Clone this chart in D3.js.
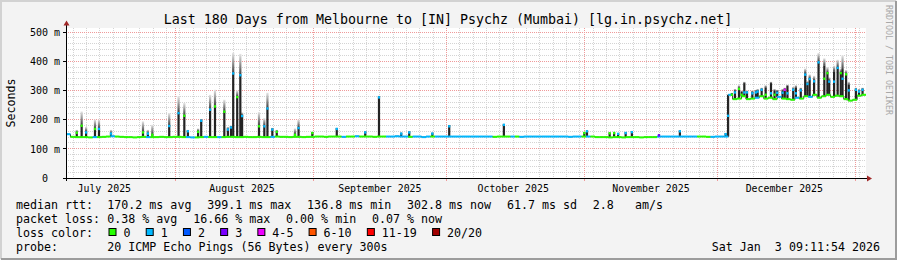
<!DOCTYPE html>
<html>
<head>
<meta charset="utf-8">
<script src="https://cdn.jsdelivr.net/npm/d3@7"></script>
<style>
body { margin: 0; background: #f3f3f3; }
text { font-family: "DejaVu Sans Mono", monospace; white-space: pre; }
</style>
</head>
<body>
<div id="graph"></div>
<script>
var width = 897, height = 260;
var plot = {left: 66, right: 866, top: 28, bottom: 178};

var endTime = new Date(Date.UTC(2026, 0, 3, 9, 11, 54));
var startTime = new Date(endTime - 180 * 864e5);

var yTicks = [0, 100, 200, 300, 400, 500];
var lossLabels = ["0", "1", "2", "3", "4-5", "6-10", "11-19", "20/20"];
var lossColors = ["#26ff00", "#00b8ff", "#0059ff", "#7a00ff", "#ee00ff", "#ff5500", "#ff0000", "#a10000"];

// daily median (ms), one value per day from the start of the window
var baseMedian = [
  150,141,140,140,140,139,140,140,141,142,143,142,141,140,140,139,140,141,140,140,140,141,140,140,141,
  141,140,140,139,139,140,141,140,140,140,140,141,141,140,140,141,140,140,141,140,140,141,142,141,141,140,141,141,140,141,141,
  142,142,141,142,142,142,141,142,142,143,142,142,142,141,142,142,142,142,143,142,142,141,142,142,140,142,142,142,142,142,
  142,142,142,142,142,142,142,142,142,142,141,142,142,142,142,142,141,142,142,142,142,142,142,142,142,142,142,141,142,142,142,
  142,142,140,140,140,139,140,140,139,140,140,140,139,140,140,140,142,142,142,142,142,142,142,142,142,142,142,141,141,142,
  142,142,285,270,272,280,270,272,275,280,272,275,270,278,272,270,268,275,272,280,278,285,275,280,285,278,282,280,270,265,268,282,285
];
// lost pings out of 20 for each day (index into lossColors)
var baseLoss = [
  1,0,0,0,0,0,1,0,0,0,1,0,0,0,0,0,0,0,1,0,0,0,0,0,0,
  0,0,1,1,0,0,1,0,0,1,0,0,0,0,0,0,0,0,0,0,0,1,0,0,0,0,0,0,0,0,0,
  0,0,0,0,0,0,1,0,0,1,0,0,0,0,0,0,1,1,1,1,1,0,1,1,1,1,0,1,1,1,
  1,1,1,1,1,1,1,1,1,1,0,0,0,0,1,0,1,1,1,1,1,1,1,1,1,1,1,1,1,1,0,
  1,0,0,0,0,0,0,0,0,0,0,0,0,0,0,0,1,1,1,1,1,1,1,1,1,0,0,0,1,1,
  1,1,1,0,0,0,0,0,1,0,0,0,0,1,0,0,0,1,0,0,1,0,0,0,0,0,0,0,0,0,0,0,0
];

// short bursts: day offset, median, top of dense smoke, top of faint smoke, loss
var spikeDay = [2.4,3.5,4.5,6.5,7.4,10.1,17.3,18.4,19.4,23.2,25.3,26.6,27.4,29.7,30.4,32.4,33.5,35.6,36.4,37.1,
  37.6,38.5,39.2,39.6,43.4,44.6,45.3,46.4,47.4,51.5,52.3,55.4,60.9,67.3,70.4,75.4,77.2,82.4,86.2,98.5,
  116.6,117.2,122.3,123.3,124.2,125.9,127.3,133.4,138.1,148.4,148.95,
  149.8,150.5,151.4,152.0,152.6,153.2,154.4,155.2,155.6,156.5,157.4,158.6,159.4,160.0,161.2,161.7,162.3,163.6,
  164.2,165.3,166.3,166.8,167.3,168.3,169.3,170.6,171.3,171.7,172.8,173.6,174.3,174.7,175.5,176.1,177.7,178.4,179.2];
var spikeMedian = [155,179,156,168,168,152,156,152,148,178,222,213,160,158,196,234,245,227,166,173,
  358,277,352,212,177,177,238,166,158,148,171,154,168,156,276,152,156,152,177,182,
  154,160,153,154,151,154,157,146,160,150,213,
  285,293,305,285,293,293,290,293,296,302,285,290,285,292,292,302,290,302,
  290,300,354,322,339,331,396,340,359,330,330,377,359,340,355,300,302,296,302];
var spikeTop = [158,182,159,171,171,155,159,155,151,181,225,216,163,161,199,237,248,230,169,176,
  361,280,355,215,180,180,241,169,161,151,174,157,171,159,279,155,159,155,180,185,
  157,163,156,157,154,157,160,149,163,153,285,
  290,300,310,295,325,296,295,298,300,305,310,325,300,298,300,305,315,305,
  310,305,359,325,342,335,399,385,362,335,365,380,362,373,358,320,305,300,305];
var spikeMax = [165,228,175,200,200,165,194,165,182,222,280,257,165,170,202,285,302,268,175,180,
  429,300,425,225,226,205,292,172,165,170,200,158,172,160,282,155,160,155,182,186,
  157,163,156,157,154,157,160,150,163,155,285,
  292,305,318,300,330,300,300,302,305,310,318,330,305,302,305,310,320,312,
  318,310,375,332,355,350,428,410,380,345,385,405,375,420,370,330,310,305,310];
var spikeLoss = [0,0,1,0,1,1,0,1,0,1,1,0,1,0,1,1,0,0,1,1,
  1,0,1,1,0,1,1,1,0,0,1,0,1,1,1,1,1,1,1,1,
  0,1,0,0,1,1,1,3,1,1,1,
  0,1,0,0,1,1,1,1,1,1,0,1,0,1,1,4,1,1,
  1,1,1,1,1,1,1,0,0,1,1,1,0,1,0,1,1,1,1];

var rttStats = ["170.2 ms avg", "399.1 ms max", "136.8 ms min", "302.8 ms now", "61.7 ms sd", "2.8   am/s"];
var lossStats = ["0.38 % avg", "16.66 % max", "0.00 % min", "0.07 % now"];
var probeText = "20 ICMP Echo Pings (56 Bytes) every 300s";
var stampText = "Sat Jan  3 09:11:54 2026";
var titleText = "Last 180 Days from Melbourne to [IN] Psychz (Mumbai) [lg.in.psychz.net]";

function dayTime(d) { return new Date(+startTime + d * 864e5); }
function crisp(v) { return Math.floor(v) + 0.5; }

var xScale = d3.scaleUtc().domain([startTime, endTime]).range([plot.left, plot.right]);
var yScale = d3.scaleLinear().domain([0, 513.7]).range([plot.bottom, plot.top]);

var svg = d3.select("#graph").append("svg").attr("width", width).attr("height", height);

// canvas and 3d border
svg.append("rect").attr("width", width).attr("height", height).attr("fill", "#f3f3f3");
svg.append("path").attr("d", "M1,259V1H896").attr("fill", "none").attr("stroke", "#d2d2d2").attr("stroke-width", 2);
svg.append("path").attr("d", "M1,259H896V1").attr("fill", "none").attr("stroke", "#9c9c9c").attr("stroke-width", 2);

svg.append("rect")
  .attr("x", plot.left).attr("y", plot.top)
  .attr("width", plot.right - plot.left).attr("height", plot.bottom - plot.top)
  .attr("fill", "#ffffff");

var defs = svg.append("defs");
var grad = defs.append("linearGradient").attr("id", "smoke")
  .attr("x1", 0).attr("y1", 1).attr("x2", 0).attr("y2", 0);
grad.append("stop").attr("offset", 0).attr("stop-color", "#444444");
grad.append("stop").attr("offset", 1).attr("stop-color", "#e6e6e6");

// grid
var gridLayer = svg.append("g").attr("class", "grid");
var sep1 = Date.UTC(2025, 8, 1);
var minorDays = d3.utcDay.range(startTime, endTime).filter(function(d) {
  var n = Math.round((d - sep1) / 864e5);
  return ((n % 3) + 3) % 3 === 0;
});
var months = d3.utcMonth.range(startTime, endTime);
var minorVals = d3.range(20, 514, 20).filter(function(v) { return v % 100 !== 0; });

gridLayer.selectAll(".hminor").data(minorVals).enter().append("line")
  .attr("x1", plot.left).attr("x2", plot.right)
  .attr("y1", function(d) { return crisp(yScale(d)); })
  .attr("y2", function(d) { return crisp(yScale(d)); })
  .attr("stroke", "#d4d4d4").attr("stroke-dasharray", "1,1");
gridLayer.selectAll(".vminor").data(minorDays).enter().append("line")
  .attr("y1", plot.top).attr("y2", plot.bottom)
  .attr("x1", function(d) { return crisp(xScale(d)); })
  .attr("x2", function(d) { return crisp(xScale(d)); })
  .attr("stroke", "#d4d4d4").attr("stroke-dasharray", "1,1");
gridLayer.selectAll(".hmajor").data(yTicks.slice(1)).enter().append("line")
  .attr("x1", plot.left).attr("x2", plot.right)
  .attr("y1", function(d) { return crisp(yScale(d)); })
  .attr("y2", function(d) { return crisp(yScale(d)); })
  .attr("stroke", "#ef9a9a").attr("stroke-dasharray", "1,1");
gridLayer.selectAll(".vmajor").data(months).enter().append("line")
  .attr("y1", plot.top).attr("y2", plot.bottom)
  .attr("x1", function(d) { return crisp(xScale(d)); })
  .attr("x2", function(d) { return crisp(xScale(d)); })
  .attr("stroke", "#ef9a9a").attr("stroke-dasharray", "1,1");

// data
var chartLayer = svg.append("g").attr("class", "chartLayer");
var spikes = spikeDay.map(function(d, i) {
  return {day: d, median: spikeMedian[i], top: spikeTop[i], max: spikeMax[i], loss: spikeLoss[i],
          base: baseMedian[Math.floor(d)]};
});

chartLayer.selectAll(".faint").data(spikes).enter().append("rect")
  .attr("x", function(d) { return xScale(dayTime(d.day)) - 1; })
  .attr("width", 2.2)
  .attr("y", function(d) { return yScale(d.max); })
  .attr("height", function(d) { return Math.max(0, yScale(d.top) - yScale(d.max)); })
  .attr("fill", "url(#smoke)");

chartLayer.selectAll(".dense").data(spikes).enter().append("rect")
  .attr("x", function(d) { return xScale(dayTime(d.day)) - 1; })
  .attr("width", 2.2)
  .attr("y", function(d) { return yScale(d.top); })
  .attr("height", function(d) { return Math.max(0, yScale(d.base) - yScale(d.top)); })
  .attr("fill", "#232323");

var steps = baseMedian.map(function(v, i) { return [i, v]; });
steps.push([180, baseMedian[179]]);
chartLayer.append("path")
  .datum(steps)
  .attr("d", d3.line()
    .curve(d3.curveStepAfter)
    .x(function(d) { return xScale(dayTime(d[0])); })
    .y(function(d) { return yScale(d[1]); }))
  .attr("fill", "none").attr("stroke", "#2a2a2a").attr("stroke-width", 1);

chartLayer.selectAll(".median").data(baseMedian).enter().append("line")
  .attr("x1", function(d, i) { return xScale(dayTime(i)); })
  .attr("x2", function(d, i) { return xScale(dayTime(i + 1)); })
  .attr("y1", function(d) { return yScale(d); })
  .attr("y2", function(d) { return yScale(d); })
  .attr("stroke", function(d, i) { return lossColors[baseLoss[i]]; })
  .attr("stroke-width", 2);

chartLayer.selectAll(".dot").data(spikes).enter().append("rect")
  .attr("x", function(d) { return xScale(dayTime(d.day)) - 1; })
  .attr("width", 2.2)
  .attr("y", function(d) { return yScale(d.median) - 1.2; })
  .attr("height", 2.4)
  .attr("fill", function(d) { return lossColors[d.loss]; });

// axes
var axisLayer = svg.append("g").attr("class", "axisLayer");
axisLayer.selectAll(".ytick").data(yTicks).enter().append("line")
  .attr("x1", plot.left - 3).attr("x2", plot.left)
  .attr("y1", function(d) { return crisp(yScale(d)); })
  .attr("y2", function(d) { return crisp(yScale(d)); })
  .attr("stroke", "#000");
axisLayer.selectAll(".xtick").data(months).enter().append("line")
  .attr("y1", plot.bottom).attr("y2", plot.bottom + 3)
  .attr("x1", function(d) { return crisp(xScale(d)); })
  .attr("x2", function(d) { return crisp(xScale(d)); })
  .attr("stroke", "#ef9a9a");
axisLayer.append("line")
  .attr("x1", plot.left - 3).attr("x2", plot.right + 2)
  .attr("y1", plot.bottom + 0.5).attr("y2", plot.bottom + 0.5)
  .attr("stroke", "#000");
axisLayer.append("line")
  .attr("x1", plot.left + 0.5).attr("x2", plot.left + 0.5)
  .attr("y1", plot.bottom + 3).attr("y2", plot.top - 3)
  .attr("stroke", "#000");
axisLayer.append("path")
  .attr("d", "M" + (plot.left - 2.5) + "," + (plot.top - 2.5) + "L" + (plot.left + 3.5) + "," + (plot.top - 2.5) +
    "L" + (plot.left + 0.5) + "," + (plot.top - 7.5) + "Z")
  .attr("fill", "#a02828");
axisLayer.append("path")
  .attr("d", "M" + (plot.right + 1) + "," + (plot.bottom - 2.5) + "L" + (plot.right + 1) + "," + (plot.bottom + 3.5) +
    "L" + (plot.right + 6) + "," + (plot.bottom + 0.5) + "Z")
  .attr("fill", "#a02828");

axisLayer.selectAll(".ylabel").data(yTicks).enter().append("text")
  .attr("x", plot.left - 6)
  .attr("y", function(d) { return yScale(d) + 3.8; })
  .attr("text-anchor", "end")
  .attr("font-size", "10px")
  .attr("fill", "#000")
  .text(function(d) { return d === 0 ? "0  " : d + " m"; });

var monthMid = months.map(function(m) { return d3.utcMonth.offset(m, -1); })
  .concat([months[months.length - 1]])
  .map(function(m) { return d3.utcDay.offset(m, 15); })
  .filter(function(m) { return m > startTime && m < endTime; });
axisLayer.selectAll(".xlabel").data(monthMid).enter().append("text")
  .attr("x", function(d) { return xScale(d); })
  .attr("y", 191.5)
  .attr("text-anchor", "middle")
  .attr("font-size", "9.9px")
  .attr("fill", "#000")
  .text(d3.utcFormat("%B %Y"));

svg.append("text")
  .attr("x", 448).attr("y", 23.5)
  .attr("text-anchor", "middle")
  .attr("font-size", "13.3px")
  .attr("fill", "#000")
  .text(titleText);

svg.append("text")
  .attr("transform", "translate(15,103)rotate(-90)")
  .attr("text-anchor", "middle")
  .attr("font-size", "11.6px")
  .attr("fill", "#000")
  .text("Seconds");

svg.append("text")
  .attr("transform", "translate(885.5,5)rotate(90)")
  .attr("font-size", "8.3px")
  .attr("fill", "#a8a8a8")
  .text("RRDTOOL / TOBI OETIKER");

// legend
var legend = svg.append("g").attr("class", "legend").attr("font-size", "11.65px").attr("fill", "#000");
var valueX = 107.3, gap = 15.8;

function writeRow(label, items, y) {
  legend.append("text").attr("x", 16).attr("y", y).text(label);
  var x = valueX;
  items.forEach(function(s) {
    var t = legend.append("text").attr("x", x).attr("y", y).text(s);
    x += t.node().getComputedTextLength() + gap;
  });
}
writeRow("median rtt:", rttStats, 208.5);
writeRow("packet loss:", lossStats, 222.5);

legend.append("text").attr("x", 16).attr("y", 236.5).text("loss color:");
var lx = 108.5;
lossLabels.forEach(function(s, i) {
  legend.append("rect")
    .attr("x", lx + 0.5).attr("y", 228.5)
    .attr("width", 7).attr("height", 7)
    .attr("fill", lossColors[i]).attr("stroke", "#000");
  var t = legend.append("text").attr("x", lx + 15).attr("y", 236.5).text(s);
  lx += 15 + t.node().getComputedTextLength() + 15.2;
});

legend.append("text").attr("x", 16).attr("y", 250.5).text("probe:");
legend.append("text").attr("x", valueX).attr("y", 250.5).text(probeText);
legend.append("text").attr("x", 880).attr("y", 250.5).attr("text-anchor", "end").text(stampText);
</script>
</body>
</html>
